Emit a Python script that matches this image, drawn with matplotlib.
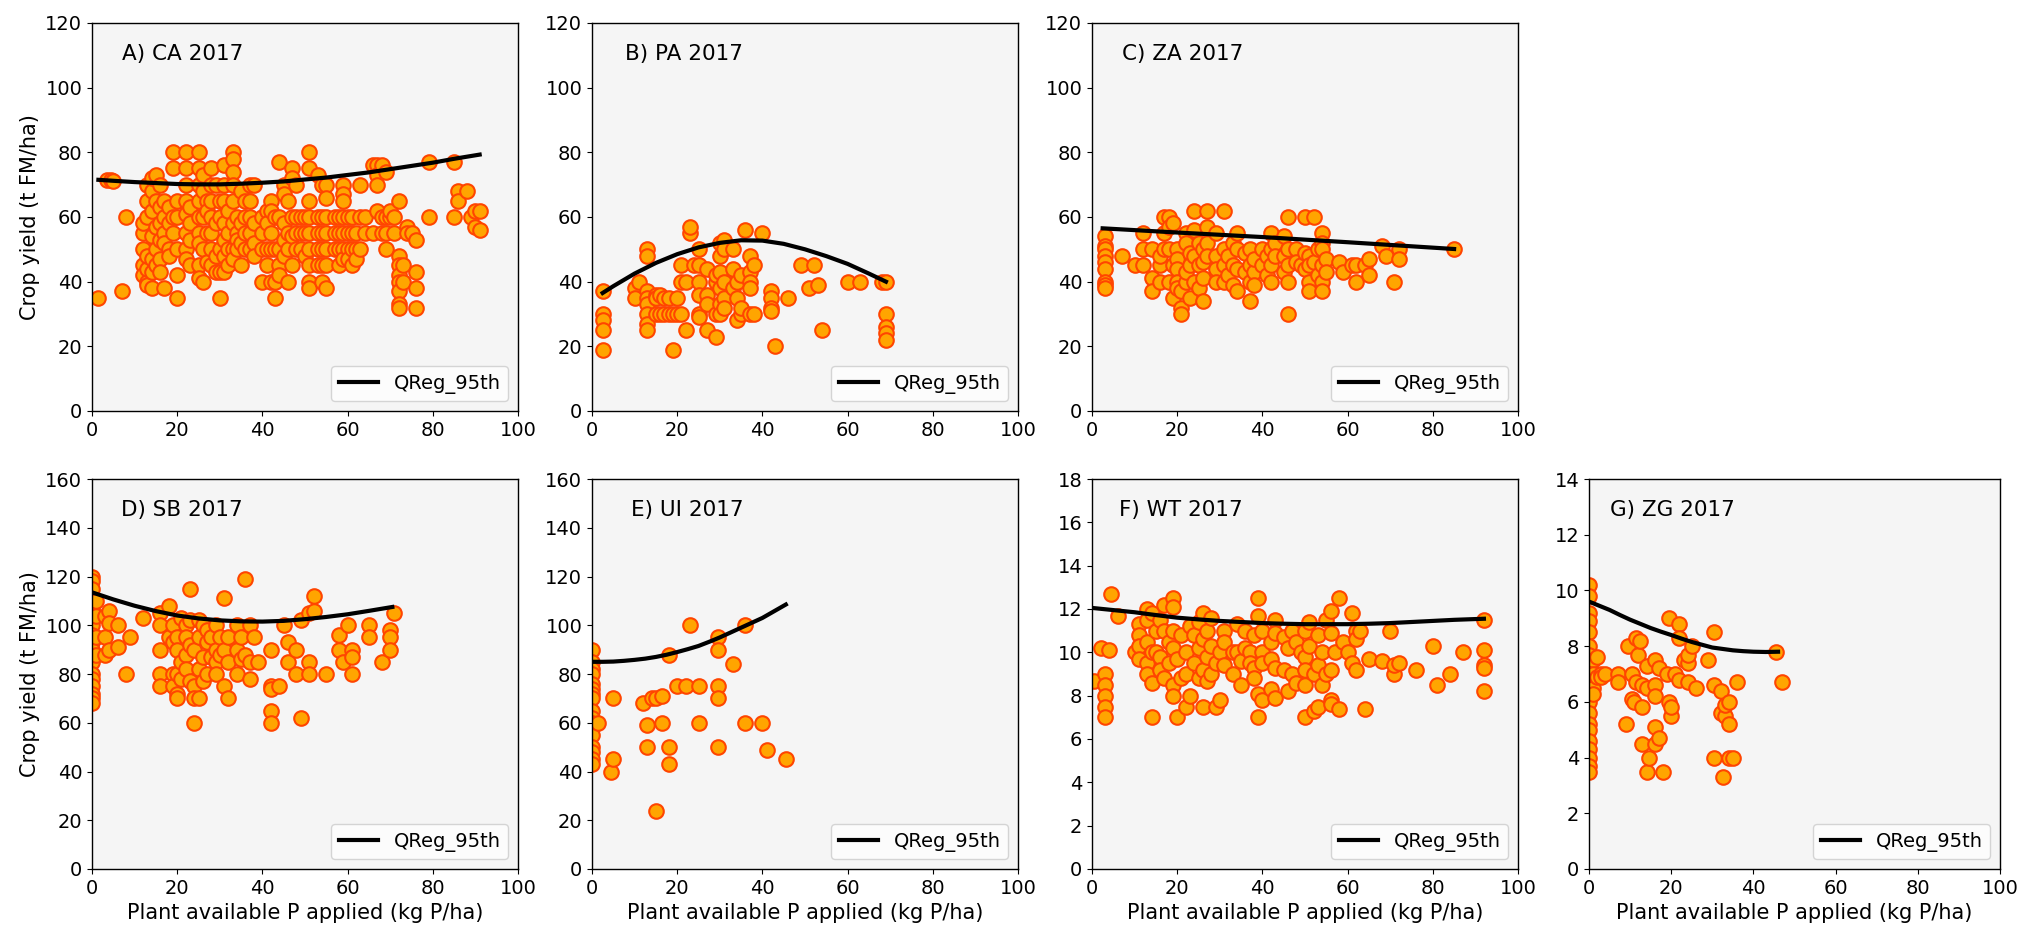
import matplotlib
matplotlib.use("Agg")
import matplotlib.pyplot as plt

# ---- data: x (kg P/ha) columns and the yields seen at each ----
ca_px = [1.5, 3.5, 4.5, 5, 7, 8, 12, 13, 14, 15, 16, 17, 18, 19, 20, 22, 23, 25, 26, 27, 28, 29, 30,
         31, 32, 33, 34, 35, 36, 37, 38, 40, 41, 42, 43, 44, 45, 46, 47, 48, 49, 50, 51, 53, 54, 55,
         57, 58, 59, 60, 61, 62, 63, 64, 66, 67, 68, 69, 70, 71, 72, 73, 74, 75, 76, 79, 85, 86, 88,
         89, 90, 91]
ca_yield = [[35], [71.5], [71.5], [71], [37], [60],
            [45, 55, 58, 50, 42], [40, 44, 48, 60, 65, 70, 39], [68, 72, 62, 54, 47, 43, 38],
            [73, 65, 57, 50, 45], [70, 63, 58, 53, 47, 43], [65, 60, 55, 52, 38],
            [63, 58, 50, 48], [80, 75, 60, 55], [60, 50, 42, 35, 65],
            [80, 75, 70, 65, 61, 55, 50, 47], [63, 58, 53, 45],
            [80, 75, 70, 65, 60, 55, 52, 45, 41], [73, 68, 60, 50, 40],
            [65, 55, 46, 62], [75, 70, 65, 60, 55, 50, 45], [70, 58, 48, 43],
            [60, 50, 35, 43, 65], [76, 70, 65, 58, 53, 48, 43], [62, 55, 50, 45],
            [80, 78, 74, 70, 65, 58, 50, 47], [55, 53, 60, 50], [68, 58, 52, 45],
            [65, 60, 55, 50], [70, 65, 60, 55, 50], [70, 58, 52, 48], [60, 55, 50, 40],
            [62, 58, 50, 45], [65, 62, 55, 50, 40], [60, 50, 35, 40], [77, 60, 50, 45, 42],
            [70, 67, 58, 53, 48], [65, 55, 50, 40], [75, 72, 60, 54, 45], [70, 60, 55, 50],
            [60, 55, 50], [60, 55, 48], [80, 75, 65, 60, 55, 50, 45, 40, 38],
            [73, 60, 55, 50, 45], [70, 60, 55, 50, 45, 40], [70, 66, 60, 55, 50, 45, 38],
            [60, 55, 50], [60, 55, 50, 45], [70, 67, 65, 60, 55, 50, 47], [60, 55, 50, 47],
            [60, 55, 50, 45], [55, 50, 47], [70, 60, 50], [60, 55], [76, 55], [76, 73, 70, 62],
            [60, 55, 76], [74, 60, 55, 50], [60, 62], [55, 60], [65, 48, 45, 42, 40, 37, 33, 32],
            [45, 40], [57, 55], [55], [53, 43, 38, 32], [77, 60], [77, 60], [68, 65], [68],
            [60], [62, 57], [56, 62]]

pa_px = [2.5, 10, 11, 13, 15, 16, 17, 18, 19, 20, 21, 22, 23, 24, 25, 27, 29, 30, 31, 33, 34, 35,
         36, 37, 38, 40, 42, 43, 46, 49, 51, 52, 53, 54, 60, 63, 68, 69]
pa_yield = [[37, 30, 28, 25, 19], [38, 35], [40], [50, 48, 37, 35, 33, 30, 27, 25],
            [36, 35, 30], [36, 30], [35, 30], [35, 30], [19, 30], [35, 30], [40, 45, 30],
            [25, 40], [55, 57], [45], [50, 45, 40, 36, 30, 29], [44, 36, 33, 25],
            [40, 42, 30, 23], [52, 48, 43, 38, 33, 30], [53, 50, 40, 35, 32], [50, 44, 38],
            [40, 35, 28], [42, 30, 32], [56], [48, 43, 40, 38, 30], [45, 30], [55],
            [37, 35, 32, 31], [20], [35], [45], [38], [45], [39], [25], [40], [40], [40],
            [40, 30, 26, 24, 22]]

za_px = [3, 7, 10, 12, 14, 16, 17, 18, 19, 20, 21, 22, 23, 24, 25, 26, 27, 29, 31, 32, 33, 34,
         36, 37, 38, 40, 41, 42, 43, 45, 46, 48, 49, 50, 51, 52, 53, 54, 55, 58, 59, 61, 62, 64,
         65, 68, 69, 71, 72, 85]
za_yield = [[54, 51, 50, 48, 46, 44, 40, 39, 38], [48], [45], [55, 50, 45], [50, 41, 37],
            [45, 48, 40], [60, 55, 50], [60, 57, 50, 40], [58, 45, 35], [50, 47, 44, 40, 38],
            [32, 30, 37], [55, 52, 40, 43], [49, 45, 35], [62, 56, 48, 40], [52, 45, 38],
            [50, 46, 34, 41], [62, 57, 52, 48], [55, 48, 44, 40], [62, 50, 45, 40], [48, 42],
            [52, 45, 39], [55, 50, 44, 37], [49, 43], [50, 45, 40, 34], [43, 47, 39], [50, 45],
            [48, 42], [55, 50, 45, 40], [52, 48], [54, 48, 43], [60, 50, 45, 40, 30], [50, 46],
            [45], [60, 49, 44], [48, 45, 40, 37], [60, 46], [50, 42], [55, 52, 50, 45, 40, 37],
            [47, 43], [46], [43], [45], [45, 40], [45], [47, 42], [51], [48], [40], [50, 47],
            [50]]

sb_px = [0, 1, 3, 4, 6, 8, 9, 12, 16, 18, 19, 20, 21, 22, 23, 24, 25, 26, 27, 28, 29, 30, 31,
         32, 34, 35, 36, 37, 38, 39, 42, 44, 45, 46, 48, 49, 51, 52, 55, 58, 59, 60, 61, 65, 68,
         70, 71]
sb_yield = [[120, 118, 115, 110, 107, 103, 100, 96, 93, 90, 85, 80, 78, 75, 72, 70, 68],
            [110, 104, 95, 88], [104, 95, 88], [106, 101, 90], [100, 91], [80], [95], [103],
            [105, 100, 90, 80, 75], [108, 95], [100, 93, 80, 75], [95, 90, 80, 72, 70],
            [103, 85, 78], [100, 95, 88, 82], [115, 102, 92, 77], [90, 75, 70, 60],
            [102, 95, 82, 70], [100, 87, 77], [98, 93, 80], [95, 87], [100, 90, 85, 80],
            [95, 88], [111, 90, 75], [95, 85, 70], [100, 90, 80], [95, 86], [119, 88],
            [100, 85, 78], [95], [85], [90, 75, 74, 65, 60], [75], [100], [93, 85], [90, 80],
            [102, 62], [105, 85, 80], [112, 106], [80], [96, 90], [85], [100], [90, 87, 80],
            [100, 95], [85], [98, 95, 90], [105]]

ui_px = [0, 1.5, 4.5, 5, 12, 13, 14, 15, 16.5, 18, 20, 22, 23, 25, 29.5, 33, 36, 40, 41, 45.5]
ui_yield = [[90, 85, 82, 80, 76, 74, 72, 70, 65, 62, 60, 58, 55, 50, 48, 45, 43],
            [60], [40], [45, 70], [68], [59, 50], [70], [24, 70], [71, 60], [88, 50, 43], [75],
            [75], [100], [75, 60], [95, 90, 75, 70, 50], [84], [100, 60], [60], [49], [45]]

wt_px = [0.5, 2, 3, 4, 4.5, 6, 10, 11, 13, 14, 15, 16, 17, 18, 19, 20, 21, 22, 23, 24, 25, 26, 27,
         28, 29, 30, 31, 33, 34, 35, 36, 37, 38, 39, 40, 42, 43, 45, 46, 47, 48, 49, 50, 51, 52,
         53, 54, 55, 56, 57, 58, 59, 60, 61, 62, 63, 64, 65, 68, 70, 71, 72, 76, 80, 81, 84, 87,
         92]
wt_yield = [[8.7], [10.2], [9.0, 8.5, 8.0, 7.5, 7.0], [10.1], [12.7], [11.7], [10.0],
            [11.3, 10.8, 10.3, 9.7], [12.0, 11.5, 10.5, 9.5, 9.0], [11.8, 10.0, 8.6, 7.0],
            [11.0, 10.0], [11.5, 9.8, 9.2], [12.2, 11.0, 8.8], [10.5, 9.5],
            [12.5, 12.1, 11.0, 10.2, 8.5, 8.0], [9.7, 7.0], [10.8, 8.8], [10.0, 9.0, 7.5],
            [11.2, 8.0], [10.8, 9.5], [11.4, 10.2, 8.8], [11.8, 10.6, 9.2, 7.5],
            [11.0, 9.8, 8.7], [11.6, 10.3, 9.0], [9.5, 7.5], [10.0, 7.8], [11.0, 10.5, 9.4],
            [10.0, 9.0], [11.3, 10.0], [9.6, 8.5], [11.0, 10.2], [10.0, 9.5], [10.8, 9.3, 8.8],
            [12.5, 11.7, 8.1, 7.0], [11.0, 10.0, 9.5, 7.8], [10.5, 9.7, 8.3],
            [11.5, 10.9, 9.3, 7.9], [10.7, 9.2], [10.2, 8.2], [11.0, 9.0], [10.5, 8.6], [10.0],
            [11.0, 9.8, 9.2, 8.5, 7.0], [11.4, 10.3], [9.0, 7.3], [10.8, 9.4, 7.5], [10.0, 8.5],
            [11.5, 9.0], [11.9, 10.9, 9.2, 7.8, 7.6], [10.0], [12.5, 7.4], [10.5], [10.0],
            [11.8, 9.5], [11.0, 10.6, 9.2], [11.0], [7.4], [9.7], [9.6], [11.0], [9.0, 9.4],
            [9.5], [9.2], [10.3], [8.5], [9.0], [10.0], [11.5, 10.1, 9.4, 9.3, 8.2]]

zg_px = [0, 1, 2, 3, 4, 7, 9, 9.5, 10.5, 11, 11.5, 12, 12.5, 13, 14, 14.5, 16, 17, 18, 19, 19.5,
         20, 21, 22, 23, 24, 25, 26, 29, 30.5, 32, 32.5, 33, 34, 35, 36, 45.5, 47]
zg_yield = [[10.2, 9.8, 9.2, 8.9, 8.5, 8.0, 7.7, 7.3, 7.0, 6.6, 6.3, 6.0, 5.6, 5.2, 5.0, 4.6,
             4.3, 4.0, 3.7, 3.5],
            [7.5, 7.0, 6.5, 6.3], [7.6, 6.9], [7.0, 6.9], [7.0], [7.0, 6.7], [5.2], [8.0],
            [7.0, 6.1], [6.0], [8.3, 6.7], [7.7], [8.2], [4.5, 5.8, 6.6], [7.3, 3.5, 6.5], [4.0],
            [7.5, 6.6, 6.2, 5.1, 4.5], [4.7, 7.2], [3.5], [7.0], [9.0, 6.0], [5.5, 5.8], [7.0],
            [8.8, 8.3, 6.8], [7.5], [7.4, 7.7, 6.7], [8.0], [6.5], [7.5], [8.5, 6.6, 4.0],
            [5.6, 6.4], [3.3], [5.5, 5.9], [6.0, 5.2, 4.0], [4.0], [6.7], [7.8], [6.7]]

ca_qx = [1.5, 5, 10, 15, 20, 25, 30, 35, 40, 45, 50, 55, 60, 65, 70, 75, 80, 85, 91]
ca_qy = [71.5, 71.2, 70.8, 70.5, 70.2, 70.1, 70.1, 70.3, 70.6, 71.0, 71.6, 72.2, 73.0, 73.8,
         74.8, 75.8, 76.8, 78.0, 79.3]
pa_qx = [2.5, 5, 10, 15, 20, 25, 30, 35, 40, 45, 50, 55, 60, 65, 69]
pa_qy = [36.5, 38.6, 42.5, 45.8, 48.5, 50.6, 52.0, 52.8, 52.7, 51.7, 50.0, 47.9, 45.5, 42.5, 40.0]
za_qx = [2.5, 20, 40, 60, 85]
za_qy = [56.5, 55.2, 53.8, 52.2, 50.1]
sb_qx = [0, 5, 10, 15, 20, 25, 30, 35, 40, 45, 50, 55, 60, 65, 70.5]
sb_qy = [113.5, 110.6, 108.0, 105.8, 104.0, 102.8, 102.0, 101.6, 101.5, 101.8, 102.5, 103.4,
         104.5, 105.9, 107.5]
ui_qx = [0, 2.5, 5, 7.5, 10, 12.5, 15, 17.5, 20, 22.5, 25, 27.5, 30, 32.5, 35, 37.5, 40, 42.5, 45.5]
ui_qy = [85.0, 85.0, 85.1, 85.4, 85.8, 86.3, 87.0, 87.9, 89.0, 90.2, 91.5, 93.2, 95.0, 97.0,
         99.0, 101.0, 103.0, 105.5, 108.5]
wt_qx = [0, 5, 10, 15, 20, 25, 30, 35, 40, 45, 50, 55, 60, 65, 70, 75, 80, 85, 92]
wt_qy = [12.05, 11.95, 11.85, 11.72, 11.6, 11.52, 11.45, 11.4, 11.35, 11.32, 11.3, 11.3, 11.3,
         11.32, 11.35, 11.4, 11.45, 11.5, 11.55]
zg_qx = [0, 2.5, 5, 7.5, 10, 12.5, 15, 17.5, 20, 22.5, 25, 27.5, 30, 32.5, 35, 37.5, 40, 43, 46]
zg_qy = [9.6, 9.45, 9.3, 9.12, 8.95, 8.8, 8.65, 8.52, 8.4, 8.27, 8.15, 8.05, 7.95, 7.9, 7.85,
         7.82, 7.8, 7.79, 7.8]


def expand(px, ys):
    xs, yy = [], []
    for x, col in zip(px, ys):
        for y in col:
            xs.append(x)
            yy.append(y)
    return xs, yy


def panel(rect, title, px, ys, qx, qy, ymax, ylabel=False, xlabel=False):
    ax = fig.add_axes(rect)
    ax.set_facecolor('whitesmoke')
    x, y = expand(px, ys)
    ax.scatter(x, y, s=110, c='orange', edgecolors='orangered', linewidths=1.5, zorder=2)
    ax.plot(qx, qy, color='black', lw=3, label='QReg_95th', zorder=3)
    ax.set_xlim(0, 100)
    ax.set_ylim(0, ymax)
    ax.set_xticks(range(0, 101, 20))
    ax.text(0.355, 0.921, title, transform=ax.transAxes, ha='right', va='center', fontsize=15.5)
    ax.legend(loc='lower right', fontsize=14)
    ax.tick_params(labelsize=14)
    for s in ax.spines.values():
        s.set_linewidth(1.0)
    if ylabel:
        ax.set_ylabel('Crop yield (t FM/ha)', fontsize=15)
    if xlabel:
        ax.set_xlabel('Plant available P applied (kg P/ha)', fontsize=15)
    return ax


fig = plt.figure(figsize=(20.42, 9.27), dpi=100)
W, H = 2042, 927


def r(left, top, w, h):
    return [left / W, 1 - (top + h) / H, w / W, h / H]


panel(r(92, 23, 426, 388), 'A) CA 2017', ca_px, ca_yield, ca_qx, ca_qy, 120, ylabel=True)
panel(r(592, 23, 426, 388), 'B) PA 2017', pa_px, pa_yield, pa_qx, pa_qy, 120)
panel(r(1092, 23, 426, 388), 'C) ZA 2017', za_px, za_yield, za_qx, za_qy, 120)
panel(r(92, 479, 426, 390), 'D) SB 2017', sb_px, sb_yield, sb_qx, sb_qy, 160, ylabel=True, xlabel=True)
panel(r(592, 479, 426, 390), 'E) UI 2017', ui_px, ui_yield, ui_qx, ui_qy, 160, xlabel=True)
ax = panel(r(1092, 479, 426, 390), 'F) WT 2017', wt_px, wt_yield, wt_qx, wt_qy, 18, xlabel=True)
ax.set_yticks(range(0, 19, 2))
ax = panel(r(1589, 479, 411, 390), 'G) ZG 2017', zg_px, zg_yield, zg_qx, zg_qy, 14, xlabel=True)
ax.set_yticks(range(0, 15, 2))

fig.savefig('out.png', dpi=100)
